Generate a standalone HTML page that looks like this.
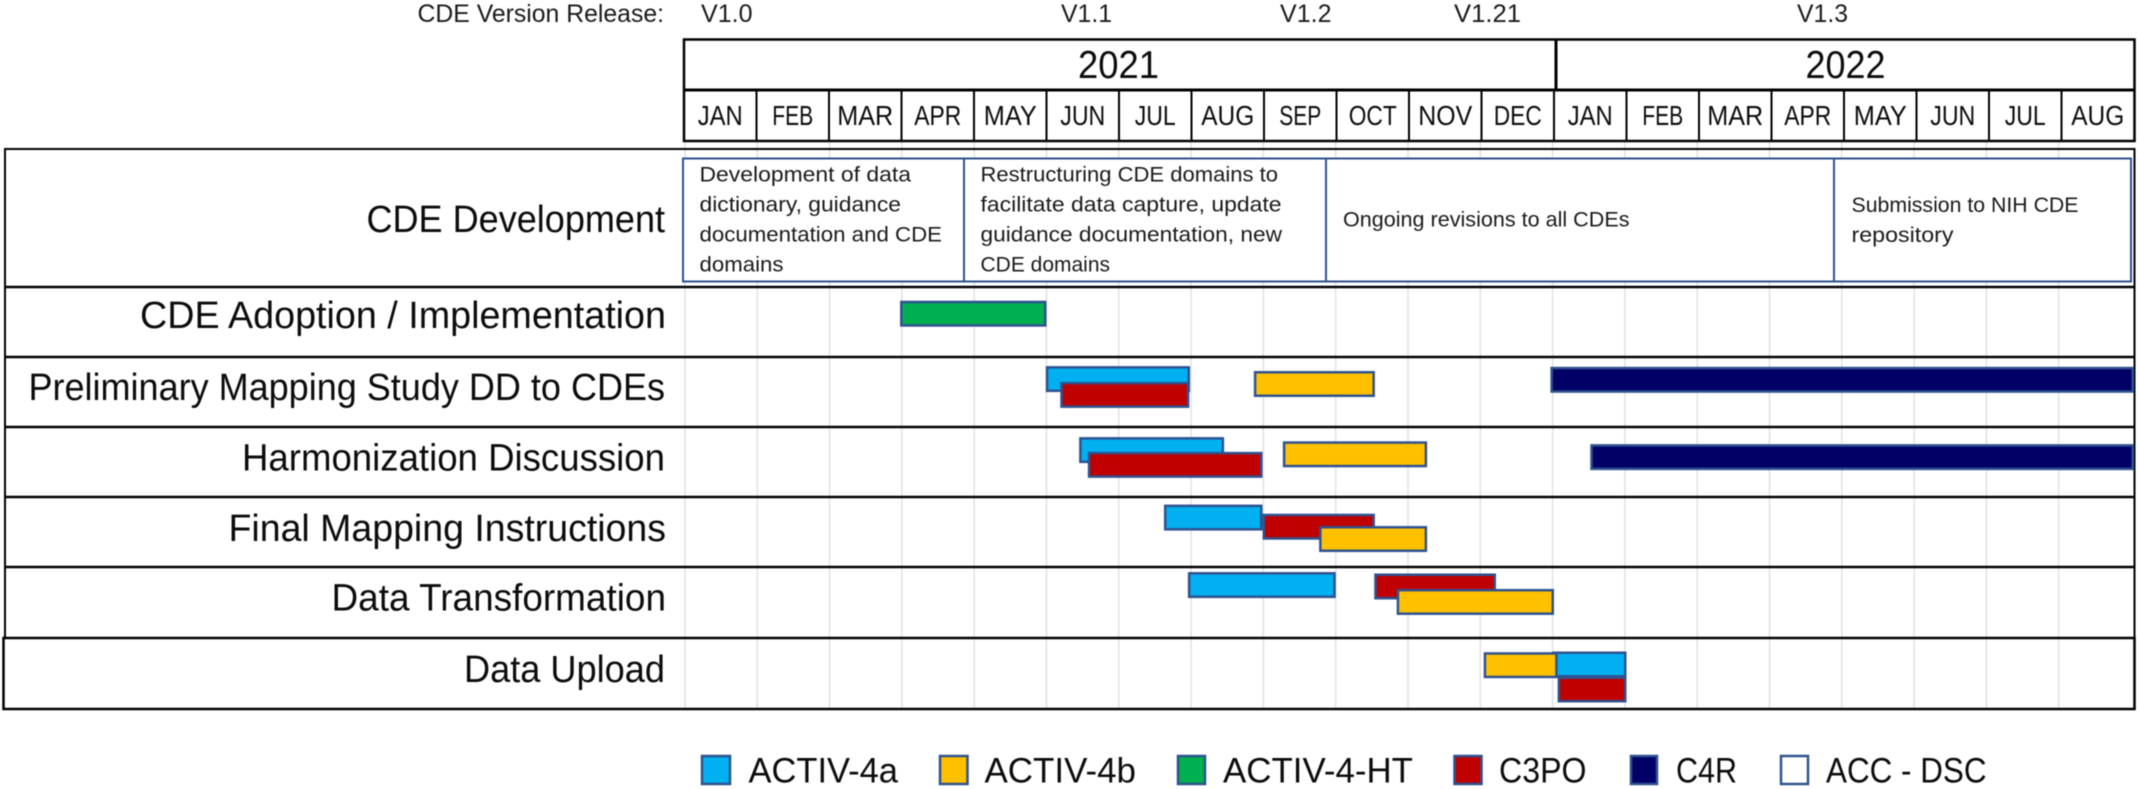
<!DOCTYPE html>
<html lang="en">
<head>
<meta charset="utf-8">
<title>CDE Timeline Gantt Chart</title>
<style>
html,body{margin:0;padding:0;background:#fff;width:2139px;height:789px;overflow:hidden}
svg{display:block;filter:blur(0.5px)}
text{font-family:"Liberation Sans",sans-serif;fill:#0c0c0c}
.row-label{font-size:38px}
.box-text{font-size:21px;fill:#1a1a1a}
.legend-text{font-size:35.5px}
.version{font-size:25px;fill:#1a1a1a}
.year{font-size:39px}
.month{font-size:28px}
</style>
</head>
<body>
<svg id="chart" xmlns="http://www.w3.org/2000/svg" width="2139" height="789" viewBox="0 0 2139 789">
  <rect x="0" y="0" width="2139" height="789" fill="#fff"/>
  <g id="grid"></g>

  <g>
    <text class="version" x="417.5" y="22" textLength="246.5" lengthAdjust="spacingAndGlyphs">CDE Version Release:</text>
    <text class="version" x="701" y="22" textLength="51.5" lengthAdjust="spacingAndGlyphs">V1.0</text>
    <text class="version" x="1061" y="22" textLength="51" lengthAdjust="spacingAndGlyphs">V1.1</text>
    <text class="version" x="1280" y="22" textLength="51.5" lengthAdjust="spacingAndGlyphs">V1.2</text>
    <text class="version" x="1454" y="22" textLength="67" lengthAdjust="spacingAndGlyphs">V1.21</text>
    <text class="version" x="1797" y="22" textLength="51" lengthAdjust="spacingAndGlyphs">V1.3</text>
  </g>

  <g>
    <rect x="684" y="39.5" width="1450.5" height="101.5" fill="#fff" stroke="#000" stroke-width="2.5"/>
    <line x1="684" x2="2134.5" y1="90" y2="90" stroke="#000" stroke-width="3"/>
    <line x1="1556" x2="1556" y1="39.5" y2="90" stroke="#000" stroke-width="3"/>
    <text class="year" x="1078" y="78" textLength="81" lengthAdjust="spacingAndGlyphs">2021</text>
    <text class="year" x="1805.5" y="78" textLength="80" lengthAdjust="spacingAndGlyphs">2022</text>
    <g id="months"></g>
  </g>

  <g fill="none" stroke="#000">
    <rect x="5" y="149" width="2129.5" height="489" stroke-width="2"/>
    <rect x="3.5" y="638" width="2131" height="71" stroke-width="2.5"/>
    <line x1="5" x2="2134.5" y1="287" y2="287" stroke-width="2.5"/>
    <line x1="5" x2="2134.5" y1="357" y2="357" stroke-width="2.5"/>
    <line x1="5" x2="2134.5" y1="427" y2="427" stroke-width="2.5"/>
    <line x1="5" x2="2134.5" y1="497" y2="497" stroke-width="2.5"/>
    <line x1="5" x2="2134.5" y1="567" y2="567" stroke-width="2.5"/>
  </g>

  <g>
    <text class="row-label" x="366.5" y="232" textLength="298.5" lengthAdjust="spacingAndGlyphs">CDE Development</text>
    <text class="row-label" x="140" y="328" textLength="526" lengthAdjust="spacingAndGlyphs">CDE Adoption / Implementation</text>
    <text class="row-label" x="28.5" y="400" textLength="636.5" lengthAdjust="spacingAndGlyphs">Preliminary Mapping Study DD to CDEs</text>
    <text class="row-label" x="242" y="470.5" textLength="423" lengthAdjust="spacingAndGlyphs">Harmonization Discussion</text>
    <text class="row-label" x="228.5" y="541" textLength="437.5" lengthAdjust="spacingAndGlyphs">Final Mapping Instructions</text>
    <text class="row-label" x="331.5" y="610.5" textLength="334.5" lengthAdjust="spacingAndGlyphs">Data Transformation</text>
    <text class="row-label" x="464" y="682" textLength="201" lengthAdjust="spacingAndGlyphs">Data Upload</text>
  </g>

  <g>
    <rect x="683" y="158.5" width="281" height="123" fill="#fff" stroke="#2F528F" stroke-width="2"/>
    <rect x="964" y="158.5" width="362" height="123" fill="#fff" stroke="#2F528F" stroke-width="2"/>
    <rect x="1326" y="158.5" width="508" height="123" fill="#fff" stroke="#2F528F" stroke-width="2"/>
    <rect x="1834" y="158.5" width="297" height="123" fill="#fff" stroke="#2F528F" stroke-width="2"/>
    <text class="box-text" x="699.5" y="181.5" textLength="211.5" lengthAdjust="spacingAndGlyphs">Development of data</text>
    <text class="box-text" x="699.5" y="211.5" textLength="201.5" lengthAdjust="spacingAndGlyphs">dictionary, guidance</text>
    <text class="box-text" x="699.5" y="241.5" textLength="242.5" lengthAdjust="spacingAndGlyphs">documentation and CDE</text>
    <text class="box-text" x="699.5" y="271.5" textLength="84" lengthAdjust="spacingAndGlyphs">domains</text>
    <text class="box-text" x="980.5" y="181.5" textLength="297.5" lengthAdjust="spacingAndGlyphs">Restructuring CDE domains to</text>
    <text class="box-text" x="980.5" y="211.5" textLength="301" lengthAdjust="spacingAndGlyphs">facilitate data capture, update</text>
    <text class="box-text" x="980.5" y="241.5" textLength="301.5" lengthAdjust="spacingAndGlyphs">guidance documentation, new</text>
    <text class="box-text" x="980.5" y="271.5" textLength="129.5" lengthAdjust="spacingAndGlyphs">CDE domains</text>
    <text class="box-text" x="1343" y="226.5" textLength="286.5" lengthAdjust="spacingAndGlyphs">Ongoing revisions to all CDEs</text>
    <text class="box-text" x="1851.5" y="212" textLength="227" lengthAdjust="spacingAndGlyphs">Submission to NIH CDE</text>
    <text class="box-text" x="1851.5" y="242" textLength="102" lengthAdjust="spacingAndGlyphs">repository</text>
  </g>

  <g id="bars"></g>

  <g>
    <g>
      <rect x="702" y="756" width="28" height="28" fill="#00B0F0" stroke="#2F528F" stroke-width="2.5"/>
      <text class="legend-text" x="748.5" y="782.5" textLength="149.5" lengthAdjust="spacingAndGlyphs">ACTIV-4a</text>
    </g>
    <g>
      <rect x="940" y="756" width="27.5" height="28" fill="#FFC000" stroke="#2F528F" stroke-width="2.5"/>
      <text class="legend-text" x="984.5" y="782.5" textLength="151.5" lengthAdjust="spacingAndGlyphs">ACTIV-4b</text>
    </g>
    <g>
      <rect x="1178" y="756" width="27" height="28" fill="#00B050" stroke="#2F528F" stroke-width="2.5"/>
      <text class="legend-text" x="1223" y="782.5" textLength="190" lengthAdjust="spacingAndGlyphs">ACTIV-4-HT</text>
    </g>
    <g>
      <rect x="1454.5" y="756" width="27" height="28" fill="#C00000" stroke="#2F528F" stroke-width="2.5"/>
      <text class="legend-text" x="1499" y="782.5" textLength="87.5" lengthAdjust="spacingAndGlyphs">C3PO</text>
    </g>
    <g>
      <rect x="1631" y="756" width="26" height="28" fill="#000066" stroke="#2F528F" stroke-width="2.5"/>
      <text class="legend-text" x="1676" y="782.5" textLength="61" lengthAdjust="spacingAndGlyphs">C4R</text>
    </g>
    <g>
      <rect x="1781" y="756" width="27" height="28" fill="#fff" stroke="#2F528F" stroke-width="2.5"/>
      <text class="legend-text" x="1826" y="782.5" textLength="160.5" lengthAdjust="spacingAndGlyphs">ACC - DSC</text>
    </g>
  </g>
</svg>

<script>
// Month tick labels, Jan 2021 through Aug 2022
const monthLabels = ["JAN","FEB","MAR","APR","MAY","JUN","JUL","AUG","SEP","OCT","NOV","DEC","JAN","FEB","MAR","APR","MAY","JUN","JUL","AUG"];

// Series names
const seriesNames = ["ACTIV-4a","ACTIV-4b","ACTIV-4-HT","C3PO","C4R"];

// Gantt values, one entry per bar, listed in draw order.
// barRow = activity row index (0 = CDE Adoption ... 5 = Data Upload)
// barStart / barEnd = months elapsed since Jan 2021
// barLane = centre of the bar within its row (fraction of the row)
const barRow    = [0,    1,    1,    1,     1,     2,    2,    2,    2,     3,    3,    3,     4,    4,    4,     5,     5,     5];
const barSeries = ["ACTIV-4-HT","ACTIV-4a","C3PO","ACTIV-4b","C4R","ACTIV-4a","C3PO","ACTIV-4b","C4R","ACTIV-4a","C3PO","ACTIV-4b","ACTIV-4a","C3PO","ACTIV-4b","C3PO","ACTIV-4a","ACTIV-4b"];
const barStart  = [2.98, 4.99, 5.19, 7.86,  11.95, 5.45, 5.57, 8.26, 12.5,  6.62, 7.98, 8.76,  6.95, 9.52, 9.83,  12.05, 11.97, 11.03];
const barEnd    = [5.00, 6.98, 6.97, 9.53,  20.00, 7.45, 7.98, 10.25, 20.0, 7.98, 9.53, 10.25, 8.99, 11.2, 12.00, 13.00, 13.00, 12.05];
const barLane   = [0.38, 0.31, 0.535, 0.38, 0.32,  0.32, 0.53, 0.38, 0.42,  0.28, 0.41, 0.585, 0.24, 0.26, 0.48,  0.725, 0.37,  0.38];

const seriesColor = {"ACTIV-4a":"#00B0F0","ACTIV-4b":"#FFC000","ACTIV-4-HT":"#00B050","C3PO":"#C00000","C4R":"#000066"};
// Ink width of each month label, so the wide fallback font matches the original
const monthInk = {JAN:45,FEB:41,MAR:56,APR:47,MAY:53,JUN:45,JUL:41,AUG:53,SEP:42,OCT:48,NOV:54,DEC:48};

const NS = "http://www.w3.org/2000/svg";
const xScale = m => 684 + 72.5 * m;
const gridScale = m => 685 + 72.3 * m;
const yScale = r => 287 + 70.3 * r;
const BAR_H = 26;

const grid = document.getElementById("grid");
for (let m = 0; m < monthLabels.length; m++) {
  const g = document.createElementNS(NS, "line");
  g.setAttribute("x1", gridScale(m));
  g.setAttribute("x2", gridScale(m));
  g.setAttribute("y1", 141);
  g.setAttribute("y2", 709);
  g.setAttribute("stroke", "#e2e2e2");
  g.setAttribute("stroke-width", 1.5);
  
  
  grid.appendChild(g);
}

const months = document.getElementById("months");
monthLabels.forEach((label, m) => {
  if (m > 0) {
    const tick = document.createElementNS(NS, "line");
    tick.setAttribute("x1", xScale(m));
    tick.setAttribute("x2", xScale(m));
    tick.setAttribute("y1", 90);
    tick.setAttribute("y2", 141);
    tick.setAttribute("stroke", "#000");
    tick.setAttribute("stroke-width", 2);
    
    
    months.appendChild(tick);
  }
  const ink = monthInk[label] || 46;
  const t = document.createElementNS(NS, "text");
  t.setAttribute("class", "month");
  t.setAttribute("x", xScale(m + 0.5) - ink / 2);
  t.setAttribute("y", 125);
  t.setAttribute("textLength", ink);
  t.setAttribute("lengthAdjust", "spacingAndGlyphs");
  
  
  t.textContent = label;
  months.appendChild(t);
});

const bars = document.getElementById("bars");
barRow.forEach((row, i) => {
  const x0 = xScale(barStart[i]);
  const x1 = xScale(barEnd[i]);
  const cy = yScale(row + barLane[i]);
  const b = document.createElementNS(NS, "rect");
  b.setAttribute("x", x0 + 1.25);
  b.setAttribute("y", cy - BAR_H / 2 + 1.25);
  b.setAttribute("width", Math.max(0, x1 - x0 - 2.5));
  b.setAttribute("height", BAR_H - 2.5);
  b.setAttribute("fill", seriesColor[barSeries[i]]);
  b.setAttribute("stroke", "#2F528F");
  b.setAttribute("stroke-width", 2.5);
  
  
  const tip = document.createElementNS(NS, "title");
  tip.textContent = barSeries[i];
  b.appendChild(tip);
  bars.appendChild(b);
});
</script>
</body>
</html>
